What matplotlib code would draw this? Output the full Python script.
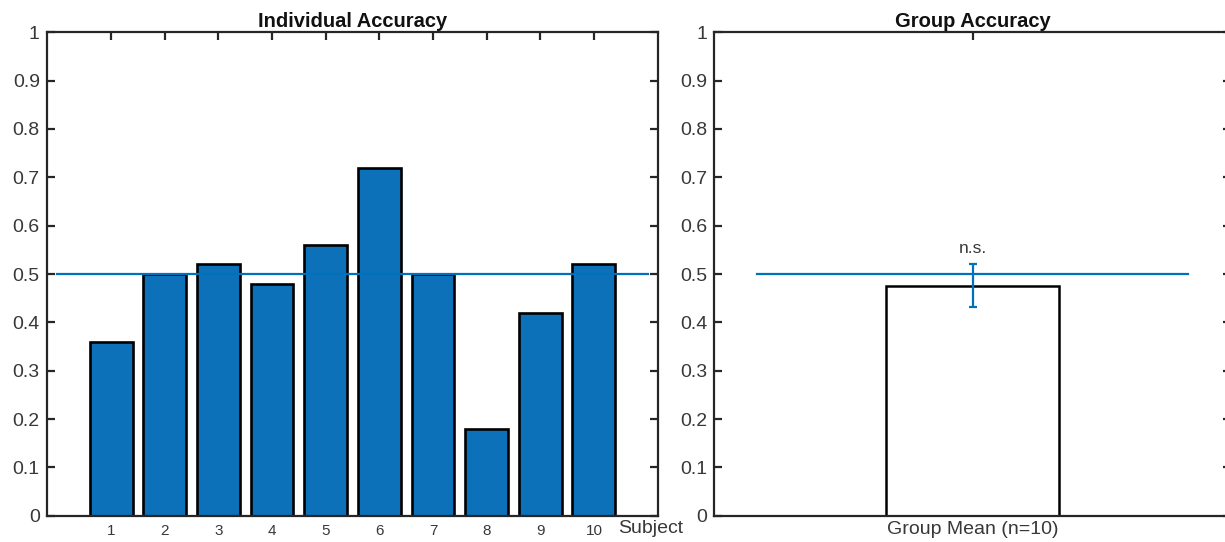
import matplotlib
matplotlib.use("Agg")
import matplotlib.pyplot as plt
import numpy as np

plt.rcParams['font.family'] = ['Liberation Sans', 'DejaVu Sans']

# ---- data ----
subjects = [1, 2, 3, 4, 5, 6, 7, 8, 9, 10]
subject_labels = ['1', '2', '3', '4', '5', '6', '7', '8', '9', '10']
accuracy = [0.36, 0.50, 0.52, 0.48, 0.56, 0.72, 0.50, 0.18, 0.42, 0.52]
chance = 0.5
group_label = ['Group Mean (n=10)']
group_mean = [0.476]
group_sem = [0.044]
yticks = [0, 0.1, 0.2, 0.3, 0.4, 0.5, 0.6, 0.7, 0.8, 0.9, 1]
ytick_labels = ['0', '0.1', '0.2', '0.3', '0.4', '0.5', '0.6', '0.7', '0.8', '0.9', '1']

BLUE = '#0072BD'
BAR_BLUE = '#0C71B9'
DARK = '#262626'
TEXT = '#383838'

W, H = 1225, 542
fig = plt.figure(figsize=(W / 100, H / 100), dpi=100)

bottom = 1 - 515.7 / H
height = 483.4 / H
ax1 = fig.add_axes([46.7 / W, bottom, 611.6 / W, height])
ax2 = fig.add_axes([714.0 / W, bottom, 517.4 / W, height])


def style(ax):
    for s in ax.spines.values():
        s.set_color(DARK)
        s.set_linewidth(1.6)
    ax.tick_params(direction='in', length=6, width=1.6, color=DARK,
                   top=True, right=True, labelcolor=TEXT, pad=5)
    ax.tick_params(axis='y', labelsize=14)
    ax.set_ylim(0, 1)
    ax.set_yticks(yticks)
    ax.set_yticklabels(ytick_labels)


# ---- left: individual accuracy ----
style(ax1)
ax1.bar(subjects, accuracy, width=0.8, color=BAR_BLUE, edgecolor='black',
        linewidth=1.9, zorder=2)
ax1.plot([0, len(subjects) + 1], [chance, chance], color=BLUE, lw=1.6, zorder=3)
ax1.set_xlim(-0.2, len(subjects) + 1.2)
ax1.set_xticks(subjects)
ax1.set_xticklabels(subject_labels)
ax1.tick_params(axis='x', labelsize=11, pad=6)
ax1.text(11.05, -0.027, 'Subject', fontsize=14, color=TEXT,
         ha='center', va='center', transform=ax1.transData)
ax1.set_title('Individual Accuracy', fontsize=14.5, fontweight='bold',
              color='#111111', pad=4)

# ---- right: group accuracy ----
style(ax2)
xg = [1]
ax2.bar(xg, group_mean, width=0.8, color='white', edgecolor='black',
        linewidth=1.8, zorder=2)
ax2.plot([0, 2], [chance, chance], color=BLUE, lw=1.6, zorder=3)
ax2.errorbar(xg, group_mean, yerr=group_sem, color=BLUE, lw=1.6,
             capsize=2.6, capthick=1.6, fmt='none', zorder=4)
ax2.text(1, 0.552, 'n.s.', fontsize=12.5, color=TEXT, ha='center', va='center')
ax2.set_xlim(-0.2, 2.2)
ax2.set_xticks(xg)
ax2.set_xticklabels(group_label)
ax2.tick_params(axis='x', labelsize=14, pad=4)
ax2.set_title('Group Accuracy', fontsize=14.5, fontweight='bold',
              color='#111111', pad=4, x=(972.7 - 714.0) / 517.4)

fig.savefig('out.png', dpi=100)
